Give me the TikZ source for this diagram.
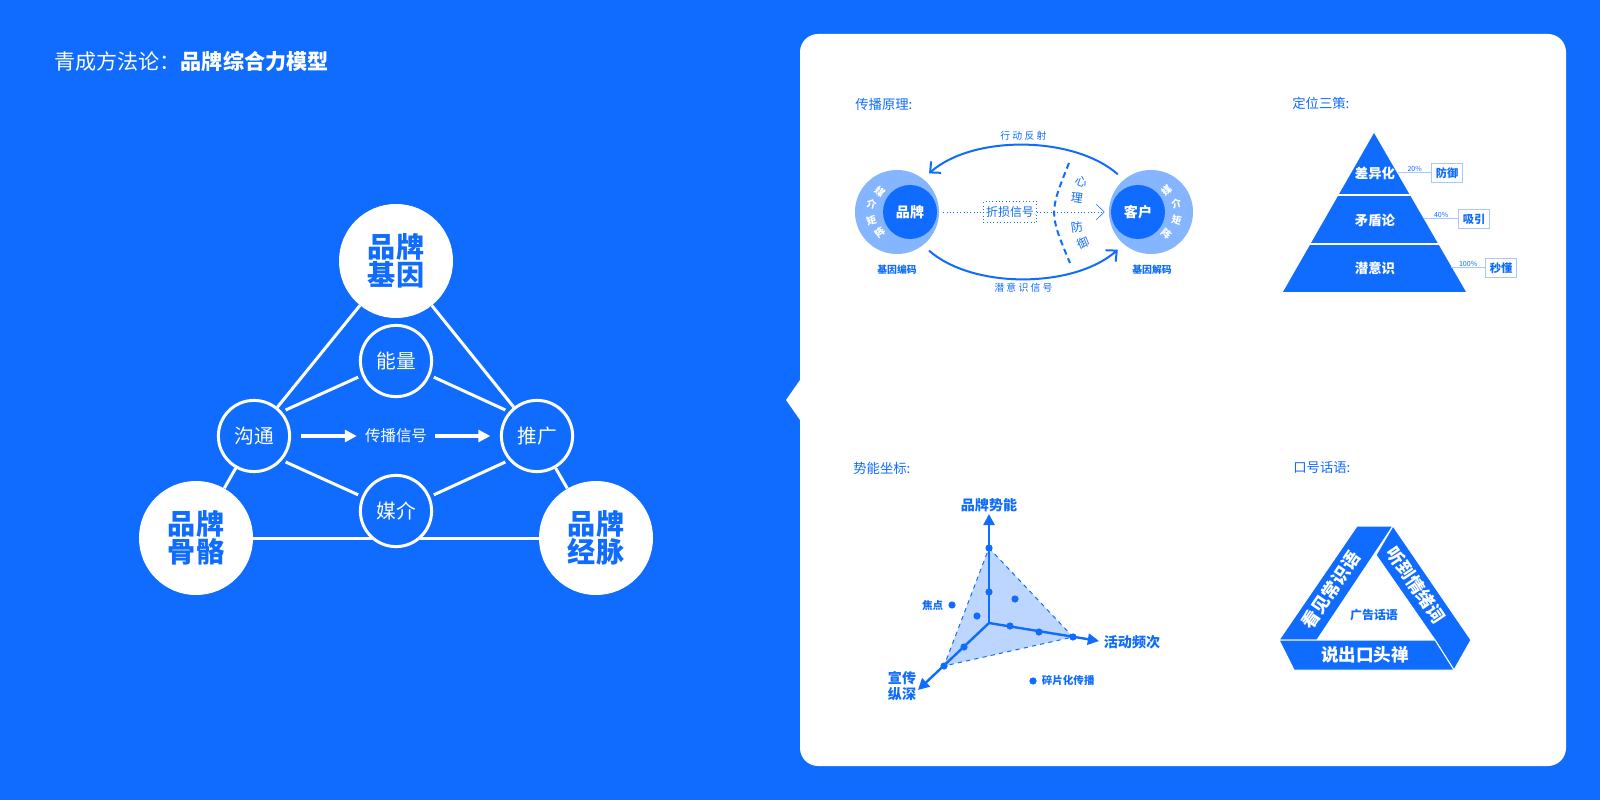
\documentclass[tikz,border=0pt]{standalone}
\usepackage{fontspec}
\setmainfont{Noto Sans CJK SC}
\usetikzlibrary{arrows.meta,calc}
\pgfdeclarelayer{background}
\pgfsetlayers{background,main}
\definecolor{qcblue}{HTML}{0F6CFF}
\definecolor{qcring}{HTML}{86B5FF}
\definecolor{qcpale}{HTML}{BDD6FF}
\definecolor{qcline}{HTML}{A8C7FF}
\newcommand{\qcsize}[1]{\fontsize{#1}{#1}\selectfont}
\tikzstyle{bigball}=[circle, fill=white, text=qcblue, minimum size=2.85cm,
  inner sep=0pt, align=center, font=\qcsize{20pt}\bfseries]
\tikzstyle{smallball}=[circle, draw=white, line width=0.075cm, fill=qcblue,
  text=white, minimum size=1.78cm, inner sep=0pt, font=\qcsize{14pt}]
\tikzstyle{link}=[draw=white, line width=0.075cm]
\tikzstyle{heading}=[anchor=west, text=qcblue, inner sep=0pt, font=\qcsize{9.5pt}]
\tikzstyle{ring}=[circle, fill=qcring, minimum size=2.1cm, inner sep=0pt]
\tikzstyle{core}=[circle, fill=qcblue, minimum size=1.35cm, inner sep=0pt,
  text=white, font=\qcsize{10pt}\bfseries]
\tikzstyle{ringchar}=[text=white, inner sep=0pt, font=\qcsize{7pt}\bfseries]
\tikzstyle{codelabel}=[text=qcblue, font=\qcsize{7pt}\bfseries]
\tikzstyle{arclabel}=[text=qcblue, font=\qcsize{7pt}]
\tikzstyle{tag}=[draw=qcline, line width=0.025cm, fill=white, text=qcblue,
  inner sep=2.8pt, minimum height=0.38cm, font=\qcsize{8pt}\bfseries]
\tikzstyle{percent}=[text=qcblue, inner sep=0.5pt, font=\qcsize{5pt}]
\tikzstyle{tierlabel}=[text=white, font=\qcsize{9.5pt}\bfseries]
\tikzstyle{dot}=[circle, fill=qcblue, inner sep=0pt, minimum size=0.18cm]
\tikzstyle{axislabel}=[text=qcblue, font=\qcsize{10pt}\bfseries, align=center]
\tikzstyle{pointlabel}=[text=qcblue, font=\qcsize{7.5pt}\bfseries]
\tikzstyle{band}=[fill=qcblue, draw=white, line width=0.025cm, line join=round]
\tikzstyle{bandtext}=[text=white, font=\qcsize{12.5pt}\bfseries]

\begin{document}
\begin{tikzpicture}[x=0.025cm, y=-0.025cm, >={Straight Barb[length=0.2cm,width=0.38cm]}]
  \useasboundingbox (0,0) rectangle (1600,800);
  \node[anchor=west, text=white, inner sep=0pt, font=\qcsize{15pt}] (title) at (54,61)
    {青成方法论：\textbf{品牌综合力模型}};

  % brand triangle
  \node[bigball] (jiyin) at (396,261) {品牌\\基因};
  \node[bigball] (gugu) at (196,538) {品牌\\骨骼};
  \node[bigball] (jingmai) at (596,538) {品牌\\经脉};
  \node[smallball] (nengliang) at (396,361) {能量};
  \node[smallball] (goutong) at (254,436) {沟通};
  \node[smallball] (tuiguang) at (537,436) {推广};
  \node[smallball] (meijie) at (396,511) {媒介};
  \node[text=white, inner sep=0.2cm, font=\qcsize{11pt}] (xinhao) at (396,436) {传播信号};
  \begin{pgfonlayer}{background}
    \fill[qcblue] (0,0) rectangle (1600,800);
    \path[link] (jiyin) -- (goutong);
    \path[link] (goutong) -- (gugu);
    \path[link] (jiyin) -- (tuiguang);
    \path[link] (tuiguang) -- (jingmai);
    \path[link] (gugu) -- (jingmai);
  \end{pgfonlayer}
  \path[link, shorten <=0.1cm, shorten >=0.1cm] (goutong.41) -- (nengliang.203);
  \path[link, shorten <=0.1cm, shorten >=0.1cm] (nengliang.-23) -- (tuiguang.139);
  \path[link, shorten <=0.1cm, shorten >=0.1cm] (goutong.-41) -- (meijie.157);
  \path[link, shorten <=0.1cm, shorten >=0.1cm] (meijie.23) -- (tuiguang.221);
  \draw[white, line width=0.075cm, -{Triangle[length=0.3cm,width=0.3cm]},
    shorten <=0.25cm] (goutong) -- (xinhao);
  \draw[white, line width=0.075cm, -{Triangle[length=0.3cm,width=0.3cm]},
    shorten >=0.24cm] (xinhao) -- (tuiguang);

  % white card
  \fill[white, rounded corners=0.45cm] (800,34) rectangle (1566,766);
  \fill[white] (800,380) -- (786,400) -- (800,420) -- cycle;

  % spreading principle
  \node[heading] (h1) at (855,104) {传播原理:};
  \node[ring] (brandring) at (897,212) {};
  \node[core] (brand) at (910,212) {品牌};
  \node[ring] (kehuring) at (1151,212) {};
  \node[core] (kehu) at (1138,212) {客户};
  \foreach \ch/\ang/\rot [count=\i] in {媒/130/-40,介/162/-15,矩/198/15,阵/230/40}
    \node[ringchar, rotate=\rot] (bl\i) at ($(brandring)+(\ang:0.67cm)$) {\ch};
  \foreach \ch/\ang/\rot [count=\i] in {媒/55/40,介/18/15,矩/-18/-15,阵/-55/-40}
    \node[ringchar, rotate=\rot] (kl\i) at ($(kehuring)+(\ang:0.67cm)$) {\ch};
  \node[codelabel] (bianma) at (897,270) {基因编码};
  \node[codelabel] (jiema) at (1152,270) {基因解码};
  \draw[qcblue, line width=0.05cm, ->, shorten <=0.2cm, shorten >=0.2cm]
    (kehuring.130) .. controls +(-50,-44) and +(50,-44) .. (brandring.52)
    node[arclabel, midway, above] (fanshe) {行 动 反 射};
  \draw[qcblue, line width=0.05cm, ->, shorten <=0.2cm, shorten >=0.2cm]
    (brandring.-52) .. controls +(50,44) and +(-50,44) .. (kehuring.-130)
    node[arclabel, midway, below] (qianyi) {潜 意 识 信 号};
  \node[draw=qcblue, dotted, fill=white, text=qcblue, font=\qcsize{8.5pt},
    inner sep=2pt, minimum height=0.52cm] (zhesun) at (1010,212) {折损信号};
  \draw[qcblue, dotted, shorten <=0.15cm] (brand) -- (zhesun);
  \draw[qcblue, dotted, shorten >=0.15cm, ->] (zhesun) -- (kehu);
  \draw[qcblue, line width=0.05cm, dash pattern=on 0.15cm off 0.1cm]
    (1069,163) .. controls (1049,213) .. (1070,263);
  \foreach \ch/\pos/\rot [count=\i] in {心/{(1082,182)}/-22,理/{(1077,198)}/-8,
      防/{(1077,227)}/8,御/{(1083,243)}/22}
    \node[arclabel, font=\qcsize{8.5pt}, rotate=\rot] (xl\i) at \pos {\ch};

  % positioning pyramid
  \node[heading] (h2) at (1292,103) {定位三策:};
  \fill[qcblue] (1374,133) -- (1466,292) -- (1283,292) -- cycle;
  \draw[white, line width=0.05cm] (1320,195) -- (1430,195) (1290,244) -- (1460,244);
  \node[tierlabel] (cha) at (1375,173) {差异化};
  \node[tierlabel] (mao) at (1375,220) {矛盾论};
  \node[tierlabel] (qian) at (1375,268) {潜意识};
  \node[tag] (fangyu) at (1447,173) {防御};
  \node[tag] (xiyin) at (1474,219) {吸引};
  \node[tag] (miaodong) at (1501,268) {秒懂};
  \coordinate (e1) at (1398,173);
  \coordinate (e2) at (1424,219);
  \coordinate (e3) at (1451,268);
  \draw[qcline, line width=0.025cm] (e1) -- (fangyu) node[percent, midway, above] (p1) {20\%};
  \draw[qcline, line width=0.025cm] (e2) -- (xiyin) node[percent, midway, above] (p2) {40\%};
  \draw[qcline, line width=0.025cm] (e3) -- (miaodong) node[percent, midway, above] (p3) {100\%};

  % potential coordinates
  \node[heading] (h3) at (853,468) {势能坐标:};
  \coordinate (o) at (989,623);
  \coordinate (ytip) at (989,514);
  \coordinate (xtip) at (1099,641);
  \coordinate (ztip) at (918,690);
  \coordinate (v1) at (989,548);
  \coordinate (v2) at (1073,637);
  \coordinate (v3) at (944,666);
  \filldraw[fill=qcpale, draw=qcblue, dashed, line width=0.025cm] (v1) -- (v2) -- (v3) -- cycle;
  \foreach \tip in {ytip,xtip,ztip}
    \draw[qcblue, line width=0.06cm, -{Triangle[length=0.28cm,width=0.28cm]}] (o) -- (\tip);
  \foreach \p [count=\i] in {(v1),(989,592),(1010,626),(1039,632),(v2),(964,647),(v3),
      (1015,599),(977,616)}
    \node[dot] (d\i) at \p {};
  \node[dot] (dfocus) at (952,605) {};
  \node[dot] (dfrag) at (1033,681) {};
  \node[axislabel] (shineng) at (989,505) {品牌势能};
  \node[axislabel] (pinci) at (1132,642) {活动频次};
  \node[axislabel, font=\fontsize{10pt}{11.5pt}\selectfont\bfseries] (zongshen) at (902,686) {宣传\\纵深};
  \node[pointlabel, anchor=east] (jiaodian) at (dfocus.west) {焦点};
  \node[pointlabel, anchor=west] (suipian) at (dfrag.east) {碎片化传播};

  % slogan triangle
  \node[heading] (h4) at (1293,467) {口号话语:};
  \path[band] (1279,640) -- (1357,526) -- (1393,526) -- (1317,640) -- cycle;
  \path[band] (1393,526) -- (1471,640) -- (1454,670) -- (1435,640) -- (1376,555) -- cycle;
  \path[band] (1279,640) -- (1435,640) -- (1454,670) -- (1294,670) -- cycle;
  \node[bandtext, rotate=56] (kanjian) at (1331,590) {看见常识语};
  \node[bandtext, rotate=-56] (tingdao) at (1416,585) {听到情绪词};
  \node[bandtext] (shuochu) at (1365,655) {说出口头禅};
  \node[text=qcblue, font=\qcsize{8.5pt}\bfseries] (guanggao) at (1374,615) {广告话语};
\end{tikzpicture}
\end{document}
